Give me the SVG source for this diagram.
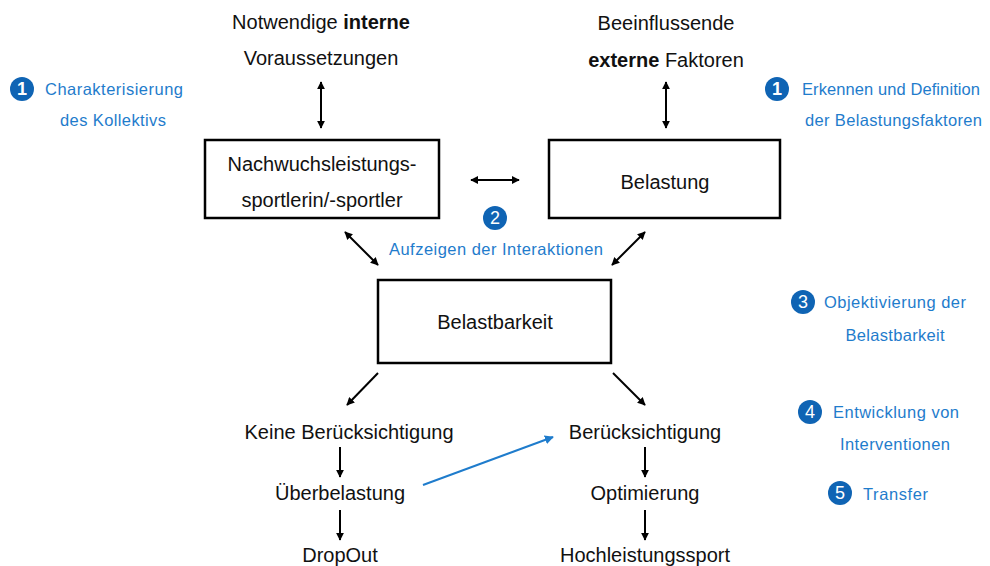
<svg xmlns="http://www.w3.org/2000/svg" width="990" height="566" viewBox="0 0 990 566">
<defs>
<marker id="ah" viewBox="0 0 10 10" refX="9" refY="5" markerWidth="8" markerHeight="8" orient="auto-start-reverse" markerUnits="userSpaceOnUse"><path d="M0,0 L10,5 L0,10 z" fill="#000"/></marker>
<marker id="ahb" viewBox="0 0 10 10" refX="9" refY="5" markerWidth="9" markerHeight="9" orient="auto" markerUnits="userSpaceOnUse"><path d="M0,0 L10,5 L0,10 z" fill="#1f7ccc"/></marker>
<style>
.t{font-family:"Liberation Sans",Arial,sans-serif;font-size:20px;fill:#111;}
.c{text-anchor:middle;}
.b{font-family:"Liberation Sans",Arial,sans-serif;font-size:16.5px;fill:#1f7ccc;}
.box{fill:#fff;stroke:#000;stroke-width:2.5;}
.ln{stroke:#000;stroke-width:2;fill:none;}
.num{fill:#0f64b4;}
.nt{font-family:"Liberation Sans",Arial,sans-serif;font-size:18px;fill:#fff;text-anchor:middle;}
</style>
</defs>
<g id="connectors">
<line class="ln" x1="321" y1="82" x2="321" y2="128" marker-start="url(#ah)" marker-end="url(#ah)"/>
<line class="ln" x1="666" y1="82" x2="666" y2="128" marker-start="url(#ah)" marker-end="url(#ah)"/>
<line class="ln" x1="471" y1="180" x2="519" y2="180" marker-start="url(#ah)" marker-end="url(#ah)"/>
<line class="ln" x1="345" y1="232" x2="378" y2="265" marker-start="url(#ah)" marker-end="url(#ah)"/>
<line class="ln" x1="645" y1="232" x2="612" y2="265" marker-start="url(#ah)" marker-end="url(#ah)"/>
<line class="ln" x1="378" y1="373" x2="347" y2="405" marker-end="url(#ah)"/>
<line class="ln" x1="613" y1="373" x2="645" y2="405" marker-end="url(#ah)"/>
<line class="ln" x1="340" y1="447" x2="340" y2="477" marker-end="url(#ah)"/>
<line class="ln" x1="645" y1="447" x2="645" y2="477" marker-end="url(#ah)"/>
<line class="ln" x1="340" y1="510" x2="340" y2="540" marker-end="url(#ah)"/>
<line class="ln" x1="645" y1="510" x2="645" y2="540" marker-end="url(#ah)"/>
<line x1="423" y1="485" x2="553" y2="437" stroke="#1f7ccc" stroke-width="2" marker-end="url(#ahb)"/>
</g>
<g id="interne">
<text class="t c" x="321" y="29">Notwendige <tspan font-weight="bold">interne</tspan></text>
<text class="t c" x="321" y="65">Voraussetzungen</text>
</g>
<g id="externe">
<text class="t c" x="666" y="30">Beeinflussende</text>
<text class="t c" x="666" y="67"><tspan font-weight="bold">externe</tspan> Faktoren</text>
</g>
<g id="nachwuchs">
<rect class="box" x="205" y="140" width="234" height="78"/>
<text class="t c" x="322" y="171">Nachwuchsleistungs-</text>
<text class="t c" x="322" y="207">sportlerin/-sportler</text>
</g>
<g id="belastung">
<rect class="box" x="549" y="140" width="231" height="78"/>
<text class="t c" x="665" y="189">Belastung</text>
</g>
<g id="belastbarkeit">
<rect class="box" x="378" y="280" width="233" height="83"/>
<text class="t c" x="495" y="329">Belastbarkeit</text>
</g>
<g id="keine">
<text class="t c" x="349" y="439">Keine Berücksichtigung</text>
</g>
<g id="ueberbelastung">
<text class="t c" x="340" y="500">Überbelastung</text>
</g>
<g id="dropout">
<text class="t c" x="340" y="562">DropOut</text>
</g>
<g id="beruecksichtigung">
<text class="t c" x="645" y="439">Berücksichtigung</text>
</g>
<g id="optimierung">
<text class="t c" x="645" y="500">Optimierung</text>
</g>
<g id="hochleistungssport">
<text class="t c" x="645" y="562">Hochleistungssport</text>
</g>
<g id="ann1">
<circle class="num" cx="22" cy="89" r="12"/>
<text class="nt" x="22" y="95" font-weight="bold">1</text>
<text class="b" x="45" y="95" textLength="138">Charakterisierung</text>
<text class="b" x="60" y="126" textLength="106">des Kollektivs</text>
</g>
<g id="ann1r">
<circle class="num" cx="777" cy="89" r="12"/>
<text class="nt" x="777" y="95" font-weight="bold">1</text>
<text class="b" x="802" y="95" textLength="178">Erkennen und Definition</text>
<text class="b" x="805" y="126" textLength="177">der Belastungsfaktoren</text>
</g>
<g id="ann2">
<circle class="num" cx="495" cy="218" r="12"/>
<text class="nt" x="495" y="224">2</text>
<text class="b c" x="496" y="255" textLength="214">Aufzeigen der Interaktionen</text>
</g>
<g id="ann3">
<circle class="num" cx="803" cy="302" r="12"/>
<text class="nt" x="803" y="308">3</text>
<text class="b" x="824" y="308" textLength="142">Objektivierung der</text>
<text class="b c" x="895" y="341" textLength="99">Belastbarkeit</text>
</g>
<g id="ann4">
<circle class="num" cx="810" cy="412" r="12"/>
<text class="nt" x="810" y="418">4</text>
<text class="b" x="833" y="418" textLength="126">Entwicklung von</text>
<text class="b c" x="895" y="450" textLength="110">Interventionen</text>
</g>
<g id="ann5">
<circle class="num" cx="840" cy="493" r="12"/>
<text class="nt" x="840" y="499">5</text>
<text class="b" x="863" y="500" textLength="65">Transfer</text>
</g>
</svg>
